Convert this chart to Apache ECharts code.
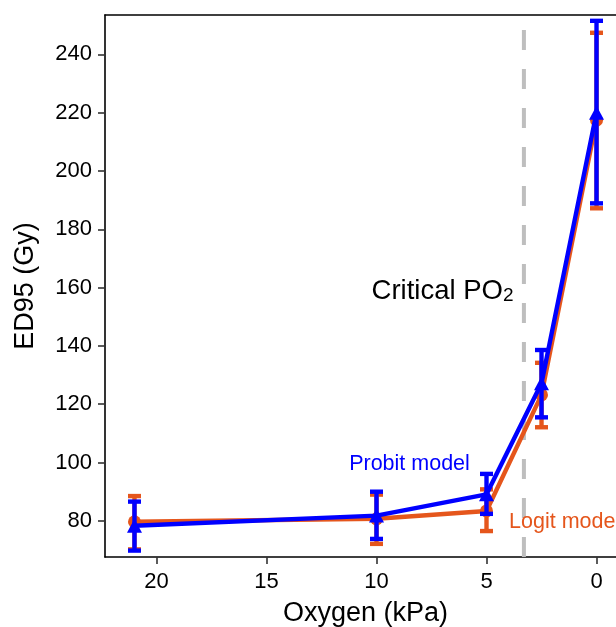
<!DOCTYPE html>
<html>
<head>
<meta charset="utf-8">
<script src="https://cdn.jsdelivr.net/npm/echarts@6/dist/echarts.min.js"></script>
<style>
  html, body { margin: 0; padding: 0; background: #fff; }
  #chart { width: 616px; height: 627px; }
</style>
</head>
<body>
<div id="chart"></div>
<script>
// Oxygen tension levels (kPa)
const oxygen = [21, 10, 5, 2.5, 0];

// Probit model: ED95 estimate with lower / upper limits (Gy)
const probitED95 = [78.3, 81.8, 89.1, 127.2, 220.0];
const probitLow  = [69.8, 73.8, 82.4, 115.5, 188.9];
const probitHigh = [86.6, 90.0, 96.1, 138.6, 251.5];

// Logit model: ED95 estimate with lower / upper limits (Gy)
const logitED95 = [79.7, 80.7, 83.4, 123.2, 217.4];
const logitLow  = [70.2, 72.1, 76.5, 112.1, 187.2];
const logitHigh = [88.5, 89.0, 90.8, 134.2, 247.4];

// Critical oxygen partial pressure (kPa)
const criticalPO2 = 3.3;

// Axis ticks
const xTicks = [0, 5, 10, 15, 20];
const yTicks = [80, 100, 120, 140, 160, 180, 200, 220, 240];

const X_MIN = -1.34, X_MAX = 22.34;
const Y_MIN = 67.6, Y_MAX = 253.5;

const BLUE = '#0000FF';
const ORANGE = '#E5561C';
const FONT = '"Liberation Sans", Arial, sans-serif';

function pts(xs, ys) { return xs.map((x, i) => [x, ys[i]]); }
function bars(xs, lo, hi) { return xs.map((x, i) => [x, lo[i], hi[i]]); }

function errorBar(color) {
  return function (params, api) {
    const x = api.value(0);
    const lo = api.coord([x, api.value(1)]);
    const hi = api.coord([x, api.value(2)]);
    const half = 6.5;
    const style = { stroke: color, lineWidth: 4.4 };
    return {
      type: 'group',
      children: [
        { type: 'line', shape: { x1: lo[0], y1: lo[1], x2: hi[0], y2: hi[1] }, style },
        { type: 'line', shape: { x1: lo[0] - half, y1: lo[1], x2: lo[0] + half, y2: lo[1] }, style },
        { type: 'line', shape: { x1: hi[0] - half, y1: hi[1], x2: hi[0] + half, y2: hi[1] }, style }
      ]
    };
  };
}

const chart = echarts.init(document.getElementById('chart'), null, { renderer: 'canvas' });

chart.setOption({
  animation: false,
  backgroundColor: '#fff',
  grid: {
    left: 105, top: 15, width: 521, height: 542,
    containLabel: false, outerBoundsMode: 'none'
  },
  xAxis: [{
    type: 'value', inverse: true, min: X_MIN, max: X_MAX,
    name: 'Oxygen (kPa)', nameLocation: 'middle', nameGap: 43,
    nameTextStyle: { fontFamily: FONT, fontSize: 27, color: '#000' },
    axisLine: { show: true, onZero: false, lineStyle: { color: '#000', width: 1.6 } },
    axisTick: { show: true, length: 7, customValues: xTicks, lineStyle: { color: '#333', width: 1.6 } },
    axisLabel: { customValues: xTicks, margin: 14, fontFamily: FONT, fontSize: 22, color: '#000' },
    splitLine: { show: false }
  }, {
    type: 'value', position: 'top', inverse: true, min: X_MIN, max: X_MAX,
    axisLine: { show: true, onZero: false, lineStyle: { color: '#000', width: 1.6 } },
    axisTick: { show: false }, axisLabel: { show: false }, splitLine: { show: false }
  }],
  yAxis: {
    type: 'value', min: Y_MIN, max: Y_MAX,
    name: 'ED95 (Gy)', nameLocation: 'middle', nameGap: 66, nameRotate: 90,
    nameTextStyle: { fontFamily: FONT, fontSize: 27, color: '#000' },
    axisLine: { show: true, onZero: false, lineStyle: { color: '#000', width: 1.6 } },
    axisTick: { show: true, length: 7, customValues: yTicks, lineStyle: { color: '#333', width: 1.6 } },
    axisLabel: { customValues: yTicks, margin: 13, fontFamily: FONT, fontSize: 22, color: '#000' },
    splitLine: { show: false }
  },
  series: [
    {
      name: 'Critical PO2', type: 'line', symbol: 'none', silent: true, z: 1,
      data: [[criticalPO2, Y_MIN], [criticalPO2, Y_MAX]],
      lineStyle: { color: '#BEBEBE', width: 4, type: [20, 19] }
    },
    {
      name: 'Logit bars', type: 'custom', z: 2,
      renderItem: errorBar(ORANGE),
      data: bars(oxygen, logitLow, logitHigh)
    },
    {
      name: 'Logit model', type: 'line', z: 3,
      data: pts(oxygen, logitED95),
      symbol: 'circle', symbolSize: 13,
      lineStyle: { color: ORANGE, width: 4.4 },
      itemStyle: { color: ORANGE }
    },
    {
      name: 'Probit bars', type: 'custom', z: 4,
      renderItem: errorBar(BLUE),
      data: bars(oxygen, probitLow, probitHigh)
    },
    {
      name: 'Probit model', type: 'line', z: 5,
      data: pts(oxygen, probitED95),
      symbol: 'triangle', symbolSize: [15, 14],
      lineStyle: { color: BLUE, width: 4.4 },
      itemStyle: { color: BLUE }
    },
    {
      name: 'Labels', type: 'scatter', symbolSize: 0, silent: true, z: 6,
      itemStyle: { color: 'transparent', opacity: 1 },
      data: [
        { value: [7.0, 160], label: {
            formatter: '{a|Critical PO}{s|2}',
            rich: {
              a: { fontFamily: FONT, fontSize: 27.5, color: '#000', lineHeight: 36, verticalAlign: 'bottom',
                   textBorderWidth: 0 },
              s: { fontFamily: FONT, fontSize: 19, color: '#000', lineHeight: 8, verticalAlign: 'bottom',
                   textBorderWidth: 0 }
            } } },
        { value: [8.5, 99.3], label: { formatter: 'Probit model', color: BLUE } },
        { value: [1.45, 79.5], label: { formatter: 'Logit model', color: ORANGE } }
      ],
      label: {
        show: true, position: 'inside', fontFamily: FONT, fontSize: 21.5, opacity: 1,
        textBorderWidth: 0, textBorderColor: 'transparent', textShadowBlur: 0
      }
    }
  ]
});
</script>
</body>
</html>
